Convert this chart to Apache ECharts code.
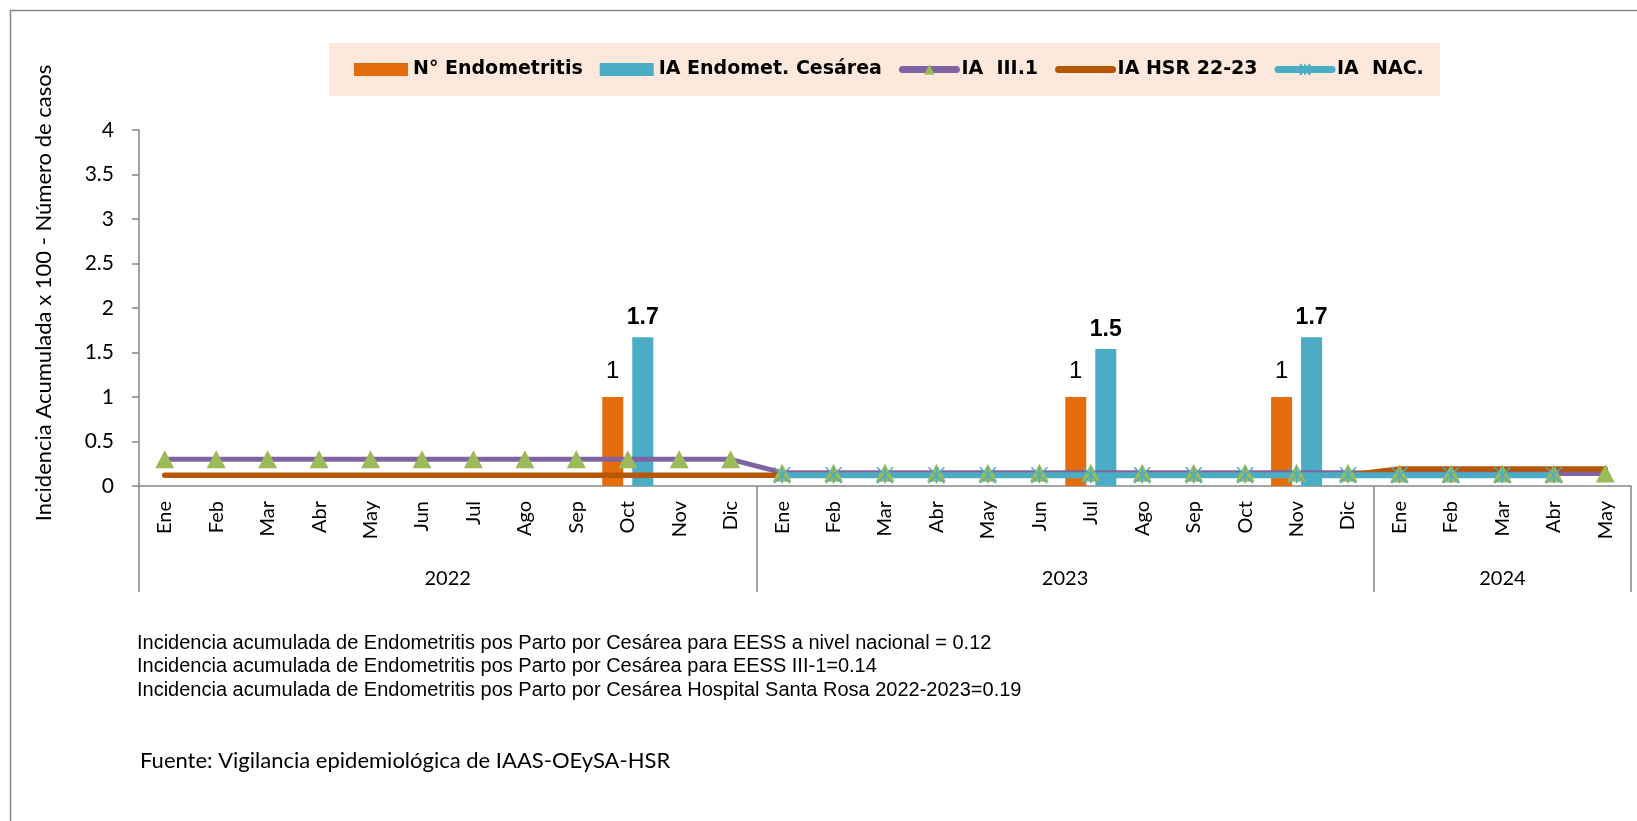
<!DOCTYPE html>
<html>
<head>
<meta charset="utf-8">
<script src="https://cdn.jsdelivr.net/npm/echarts@6/dist/echarts.min.js"></script>
<style>
  html, body { margin: 0; padding: 0; background: #fff; }
  #chart { width: 1637px; height: 821px; }
</style>
</head>
<body>
<div id="chart"></div>
<script>
// meses agrupados por año
const months = ['Ene','Feb','Mar','Abr','May','Jun','Jul','Ago','Sep','Oct','Nov','Dic',
                'Ene','Feb','Mar','Abr','May','Jun','Jul','Ago','Sep','Oct','Nov','Dic',
                'Ene','Feb','Mar','Abr','May'];
const years = ['2022', '2023', '2024'];
const monthsPerYear = [12, 12, 5];

const nEndometritis = [null,null,null,null,null,null,null,null,null,1,null,null,
                       null,null,null,null,null,null,1,null,null,null,1,null,
                       null,null,null,null,null];
const iaCesarea = [null,null,null,null,null,null,null,null,null,1.67,null,null,
                   null,null,null,null,null,null,1.54,null,null,null,1.67,null,
                   null,null,null,null,null];
const iaIII1 = [0.3,0.3,0.3,0.3,0.3,0.3,0.3,0.3,0.3,0.3,0.3,0.3,
                0.15,0.15,0.15,0.15,0.15,0.15,0.15,0.15,0.15,0.15,0.15,0.15,
                0.14,0.14,0.14,0.14,0.14];
const iaHsr = [0.12,0.12,0.12,0.12,0.12,0.12,0.12,0.12,0.12,0.12,0.12,0.12,
               0.12,0.12,0.12,0.12,0.12,0.12,0.12,0.12,0.12,0.12,0.12,0.12,
               0.19,0.19,0.19,0.19,0.19];
const iaNac = [null,null,null,null,null,null,null,null,null,null,null,null,
               0.12,0.12,0.12,0.12,0.12,0.12,0.12,0.12,0.12,0.12,0.12,0.12,
               0.12,0.12,0.12,0.12,null];

const notas = [
  'Incidencia acumulada de Endometritis pos Parto por Cesárea para EESS a nivel nacional = 0.12',
  'Incidencia acumulada de Endometritis pos Parto por Cesárea para EESS III-1=0.14',
  'Incidencia acumulada de Endometritis pos Parto por Cesárea Hospital Santa Rosa 2022-2023=0.19'
];
const fuente = 'Fuente: Vigilancia epidemiológica de IAAS-OEySA-HSR';

// límites y centros de cada año sobre el eje de meses
const yearEdges = [0];
monthsPerYear.forEach(n => yearEdges.push(yearEdges[yearEdges.length - 1] + n));
const yearCenters = years.map((y, i) => (yearEdges[i] + yearEdges[i + 1]) / 2);

const gris = '#868686';
const calibri = 'Lato';
const star = 'path://M0,0L10,10M10,0L0,10M5,0L5,10';

const chart = echarts.init(document.getElementById('chart'));

chart.setOption({
  animation: false,
  backgroundColor: '#fff',
  legend: {
    left: 329,
    top: 43,
    padding: [17, 16, 17, 25],
    backgroundColor: '#FCE9DB',
    itemGap: 17,
    itemWidth: 54,
    itemHeight: 13,
    lineStyle: { width: 7, cap: 'round' },
    textStyle: { fontFamily: 'DejaVu Sans', fontWeight: 'bold', fontSize: 19, color: '#000' },
    data: [
      { name: 'N° Endometritis', icon: 'rect' },
      { name: 'IA Endomet. Cesárea', icon: 'rect' },
      { name: 'IA  III.1' },
      { name: 'IA HSR 22-23', itemStyle: { color: 'transparent', borderWidth: 0 } },
      { name: 'IA  NAC.' }
    ]
  },
  grid: {
    left: 139, right: 6, top: 130, bottom: 335,
    outerBoundsMode: 'none'
  },
  xAxis: [
    {
      type: 'category',
      data: months,
      boundaryGap: true,
      axisLine: { lineStyle: { color: gris, width: 1.5 } },
      axisTick: { show: false },
      axisLabel: {
        rotate: 90, margin: 15, interval: 0,
        fontFamily: calibri, fontSize: 20, color: '#000'
      }
    },
    {
      type: 'value',
      min: 0,
      max: yearEdges[yearEdges.length - 1],
      position: 'bottom',
      splitLine: { show: false },
      axisLine: { show: false },
      axisTick: {
        show: true, inside: false, length: 106,
        customValues: yearEdges,
        lineStyle: { color: gris, width: 1.5 }
      },
      axisLabel: {
        customValues: yearCenters,
        margin: 83,
        fontFamily: calibri, fontSize: 20, color: '#000',
        formatter: v => years[yearCenters.indexOf(v)] || ''
      }
    }
  ],
  yAxis: {
    type: 'value',
    min: 0, max: 4, interval: 0.5,
    name: 'Incidencia Acumulada x 100 - Número de casos',
    nameLocation: 'middle',
    nameGap: 84,
    nameRotate: 90,
    nameTextStyle: { fontFamily: calibri, fontSize: 22, color: '#000', padding: [0, 0, 0, 30] },
    splitLine: { show: false },
    axisLine: { show: true, lineStyle: { color: gris, width: 1.5 } },
    axisTick: { show: true, length: 7, lineStyle: { color: gris, width: 1.5 } },
    axisLabel: { margin: 25, fontFamily: calibri, fontSize: 21, color: '#000' }
  },
  series: [
    {
      name: 'N° Endometritis',
      type: 'bar',
      data: nEndometritis,
      barWidth: 21,
      barGap: '43%',
      itemStyle: { color: '#E46C0A' },
      label: {
        show: true, position: 'top', distance: 14,
        fontFamily: 'Liberation Sans', fontSize: 24, color: '#000'
      }
    },
    {
      name: 'IA Endomet. Cesárea',
      type: 'bar',
      data: iaCesarea,
      barWidth: 21,
      itemStyle: { color: '#4BACC6' },
      label: {
        show: true, position: 'top', distance: 8,
        fontFamily: 'Liberation Sans', fontWeight: 'bold', fontSize: 23, color: '#000',
        formatter: p => p.value.toFixed(1)
      }
    },
    {
      name: 'IA  III.1',
      type: 'line',
      data: iaIII1,
      symbol: 'triangle',
      symbolSize: [19, 18],
      lineStyle: { color: '#8064A2', width: 5, cap: 'round' },
      itemStyle: { color: '#9BBB59' }
    },
    {
      name: 'IA HSR 22-23',
      type: 'line',
      data: iaHsr,
      symbol: 'none',
      lineStyle: { color: '#B65708', width: 5.5, cap: 'round' },
      itemStyle: { color: '#B65708' }
    },
    {
      name: 'IA  NAC.',
      type: 'line',
      data: iaNac,
      symbol: star,
      symbolSize: 16,
      lineStyle: { color: '#4BACC6', width: 6, cap: 'round' },
      itemStyle: { color: '#4BACC6', borderColor: '#4BACC6', borderWidth: 1.5 }
    }
  ],
  graphic: [
    {
      type: 'rect',
      shape: { x: 10.5, y: 10.5, width: 1700, height: 900 },
      style: { fill: 'none', stroke: gris, lineWidth: 1.5 },
      silent: true
    },
    {
      type: 'text',
      left: 137, top: 632,
      style: {
        text: notas.join('\n'),
        font: '20px "Liberation Sans"',
        lineHeight: 23.3,
        fill: '#000'
      }
    },
    {
      type: 'text',
      left: 140, top: 750,
      style: {
        text: fuente,
        font: '22px Lato',
        fill: '#000'
      }
    }
  ]
});
</script>
</body>
</html>
